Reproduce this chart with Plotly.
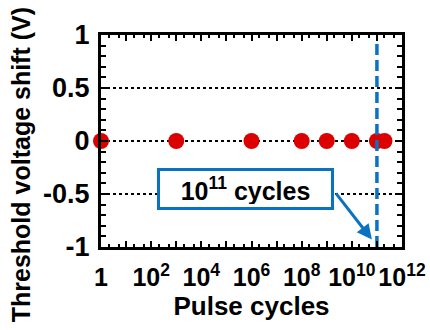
import plotly.graph_objects as go
import numpy as np

# Data
pulse_cycles = [1, 1e3, 1e6, 1e8, 1e9, 1e10, 1e11, 2e11]
vth_shift = [0, 0, 0, 0, 0, 0, 0, 0]
marker_cycles = [1e11, 1e11]
marker_y = [-1, 0.93]
x_tickvals = [10**k for k in range(0, 13)]
x_ticktext = ["1", "", "10<sup>2</sup>", "", "10<sup>4</sup>", "", "10<sup>6</sup>", "",
              "10<sup>8</sup>", "", "10<sup>10</sup>", "", "10<sup>12</sup>"]
y_tickvals = [1, 0.5, 0, -0.5, -1]
y_ticktext = ["1", "0.5", "0", "-0.5", "-1"]

FONT = "Liberation Sans, Arial, sans-serif"
BLUE = "#0a72c2"

fig = go.Figure()
fig.add_trace(go.Scatter(
    x=pulse_cycles, y=vth_shift, mode="markers",
    marker=dict(size=16, color="#dd0000"),
    cliponaxis=False, showlegend=False))
fig.add_trace(go.Scatter(
    x=marker_cycles, y=marker_y, mode="lines",
    line=dict(color=BLUE, width=3.5, dash="11px,5px"),
    showlegend=False))

fig.add_annotation(
    x=10.8, y=-0.93, ax=9.32, ay=-0.48, xref="x", yref="y", axref="x", ayref="y",
    text="", showarrow=True, arrowhead=2, arrowsize=1, arrowwidth=3,
    arrowcolor=BLUE)
fig.add_annotation(
    x=5.76, y=-0.45, xref="x", yref="y",
    text="10<sup>11</sup> cycles", showarrow=False,
    font=dict(family=FONT, size=25, color="black", weight="bold"),
    bordercolor=BLUE, borderwidth=3, borderpad=3, bgcolor="white",
    width=165, height=30)

# y-axis title as paper annotation (centered on the figure height, like the reference)
fig.add_annotation(
    x=-0.266, y=0.39, xref="paper", yref="paper",
    text="Threshold voltage shift (V)", showarrow=False, textangle=-90,
    xanchor="center", yanchor="middle",
    font=dict(family=FONT, size=25, color="black", weight="bold"))

axis_common = dict(
    showline=True, linewidth=3, linecolor="black", mirror="ticks",
    ticks="inside", tickcolor="black", tickwidth=1.5,
    zeroline=False, automargin=False,
)

fig.update_xaxes(
    type="log", range=[0, 12], tickvals=x_tickvals, ticktext=x_ticktext,
    ticklen=6, showgrid=False, ticklabelstandoff=6,
    tickfont=dict(family=FONT, size=25, color="black", weight="bold"),
    minor=dict(ticks="inside", ticklen=3, dtick="D2", tickcolor="black", showgrid=False),
    title=dict(text="Pulse cycles", standoff=6,
               font=dict(family=FONT, size=26, color="black", weight="bold")),
    **axis_common)
fig.update_yaxes(
    range=[-1, 1], tickvals=y_tickvals, ticktext=y_ticktext, ticklen=7,
    ticklabelstandoff=3,
    tickfont=dict(family=FONT, size=27, color="black", weight="bold"),
    showgrid=True, gridcolor="black", gridwidth=1.5, griddash="dot",
    minor=dict(ticks="inside", ticklen=5, dtick=0.1, tickcolor="black", showgrid=False),
    **axis_common)

fig.update_layout(
    width=430, height=330,
    margin=dict(l=101, r=28, t=35, b=83),
    plot_bgcolor="white", paper_bgcolor="white",
    font=dict(family=FONT),
)

fig.write_html("out.html")
